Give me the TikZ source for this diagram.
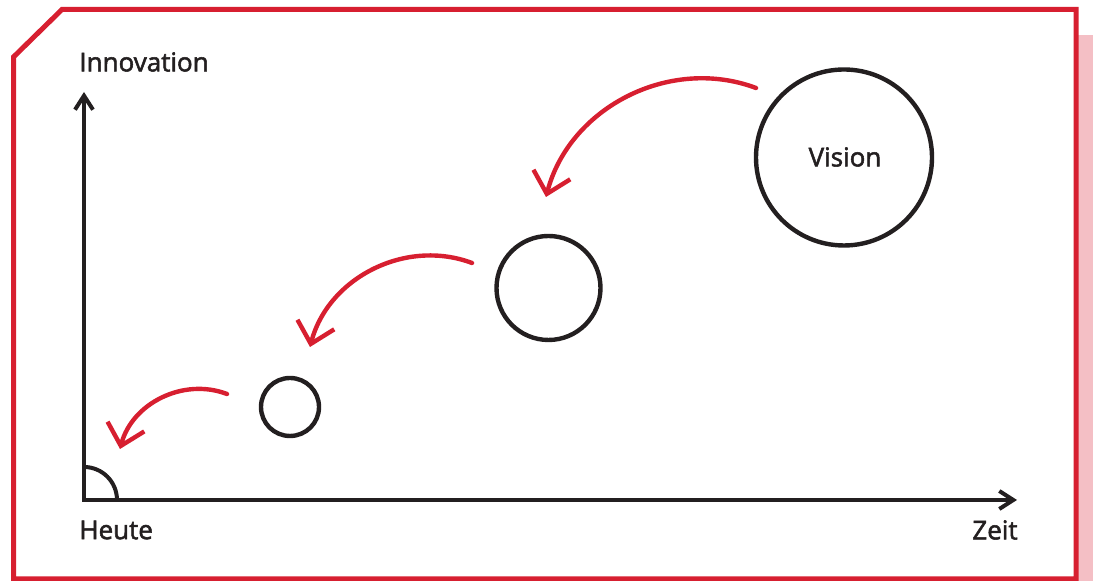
\documentclass[tikz,border=0pt]{standalone}
\usepackage{fontspec}
\setmainfont{Open Sans}
\newfontfamily\axisfont{Open Sans}[FakeBold=2]
\usetikzlibrary{arrows.meta}
\usepackage{xcolor}
\definecolor{ink}{HTML}{231F20}
\definecolor{accent}{HTML}{D71F30}
\definecolor{blush}{HTML}{F4BFC5}

\begin{document}
\begin{tikzpicture}[x=0.5pt, y=0.5pt,
        axis/.style={draw=ink, line width=2pt, miter limit=10,
                     {Straight Barb[length=7pt, width=9pt]}-{Straight Barb[length=7pt, width=9pt]}},
        ring/.style={circle, draw=ink, line width=2.2pt, inner sep=0pt},
        jump/.style={draw=accent, line width=2.2pt, line cap=round,
                     -{Straight Barb[length=10pt, width=19pt]}, bend right=48},
        axistext/.style={text=ink, inner sep=0pt, font=\axisfont\fontsize{13}{15}\selectfont},
    ]
        \useasboundingbox (0,0) rectangle (1093,581);

        % frame
        \fill[blush] (1078,0) rectangle (1093,546);
        \draw[accent, line width=2.5pt] (62,571.5) -- (1076,571.5) -- (1076,2)
            -- (13.5,2) -- (13.5,524) -- cycle;

        % axes
        \coordinate (origin) at (84,81);
        \coordinate (ytip)   at (84,489);
        \coordinate (xtip)   at (1017,81);
        \draw[axis] (ytip) -- (origin) -- (xtip);
        \draw[ink, line width=2pt] (117,81) arc[start angle=0, end angle=90, radius=33];

        \node[axistext, anchor=west] (innov) at (79,519)  {Innovation};
        \node[axistext, anchor=west] (heute) at (79,51)   {Heute};
        \node[axistext, anchor=east] (zeit)  at (1018,51) {Zeit};

        % steps
        \node[ring, minimum size=29pt] (small)  at (290,174)   {};
        \node[ring, minimum size=52pt] (medium) at (548.5,293) {};
        \node[ring, minimum size=88pt] (vision) at (844,423.5) {};
        \node[axistext] (vtext) at (845,424) {Vision};

        \coordinate (from1) at (756,493);
        \coordinate (to1)   at (546,384);
        \coordinate (from2) at (472,318);
        \coordinate (to2)   at (310,234);
        \coordinate (from3) at (227,187);
        \coordinate (to3)   at (120,132);
        \draw[jump] (from1) to (to1);
        \draw[jump] (from2) to (to2);
        \draw[jump] (from3) to (to3);
    \end{tikzpicture}
\end{document}
